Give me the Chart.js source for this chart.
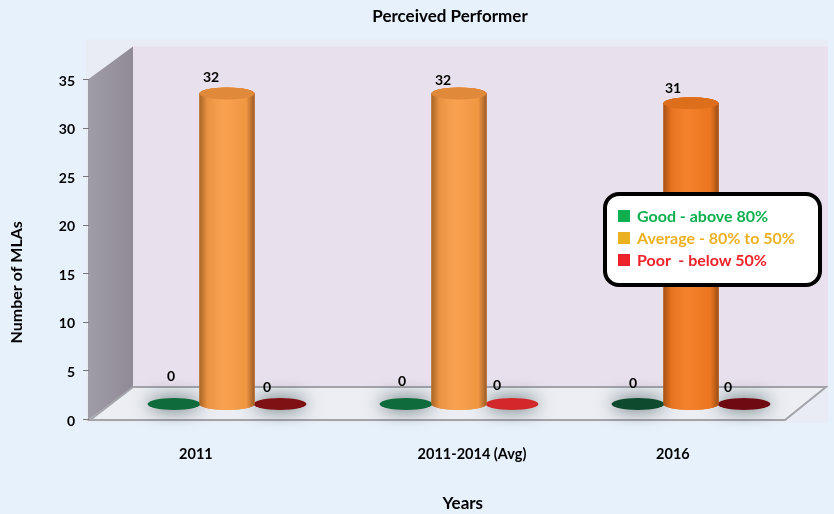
<!DOCTYPE html>
<html>
<head>
<meta charset="utf-8">
<script src="https://cdn.jsdelivr.net/npm/chart.js@4"></script>
<style>
  body { margin: 0; background: #e6f1fb; font-family: Lato, sans-serif; }
  #wrap { position: relative; width: 834px; height: 514px; overflow: hidden; }
  #legend {
    position: absolute; left: 603px; top: 192px; width: 219px; height: 95px; box-sizing: border-box;
    background: #fff; border: 4px solid #000; border-radius: 16px;
    padding: 9px 0 0 0; font-weight: 700; font-size: 16px;
  }
  #legend div { height: 22px; line-height: 22px; padding-left: 30px; position: relative; white-space: pre; }
  #legend i { position: absolute; left: 11px; top: 5px; width: 12px; height: 12px; }
</style>
</head>
<body>
<div id="wrap">
  <canvas id="myChart" width="834" height="514"></canvas>
  <div id="legend"></div>
</div>
<script>
    const categories = ['2011', '2011-2014 (Avg)', '2016'];
    const goodValues = [0, 0, 0];
    const averageValues = [32, 32, 31];
    const poorValues = [0, 0, 0];

    const goodBars = ['#0f6b3c', '#0f6b3c', '#0d4a2e'];
    const averageBars = ['#f89c46', '#f89c46', '#f47a20'];
    const poorBars = ['#7f1014', '#d2282b', '#6f0b10'];

    const legendNames = ['Good - above 80%', 'Average - 80% to 50%', 'Poor  - below 50%'];
    const legendColors = ['#0cb04f', '#ecb120', '#ee2229'];

    // the labels in the picture are not under their bars
    const tickSpots = [-0.134, 1.056, 1.922];
    // value label shift from the bar top, in the order good, average, poor
    const labelShifts = [
        [[-3, -28], [-4, -23], [-5, -21]],
        [[-16, -16], [-16, -13], [-18, -15]],
        [[-13, -17], [-15, -19], [-16, -17]]
    ];

    const fontName = 'Lato, sans-serif';
    const floorLift = 15;

    // bars are cylinders standing on the floor
    Chart.BarElement.prototype.draw = function (ctx) {
        const cx = this.x, rx = this.width / 2 + (this.base - this.y > 1 ? 1 : 0), ry = 6;
        const top = this.y - floorLift, bottom = this.base - floorLift;
        const color = this.options.backgroundColor;
        ctx.save();
        if (bottom - top < 1) {
            ctx.shadowColor = 'rgba(70,90,90,0.95)';
            ctx.shadowBlur = 18;
            ctx.fillStyle = color;
            ctx.beginPath();
            ctx.ellipse(cx, bottom, rx, ry, 0, 0, Math.PI * 2);
            ctx.fill();
            ctx.restore();
            return;
        }
        ctx.beginPath();
        ctx.moveTo(cx - rx, top);
        ctx.lineTo(cx - rx, bottom);
        ctx.ellipse(cx, bottom, rx, ry, 0, Math.PI, 0, true);
        ctx.lineTo(cx + rx, top);
        ctx.ellipse(cx, top, rx, ry, 0, 0, Math.PI, true);
        ctx.closePath();
        ctx.fillStyle = color;
        ctx.fill();
        const g = ctx.createLinearGradient(cx - rx, 0, cx + rx, 0);
        g.addColorStop(0, 'rgba(90,45,10,0.5)');
        g.addColorStop(0.14, 'rgba(90,45,10,0.1)');
        g.addColorStop(0.45, 'rgba(255,255,255,0.05)');
        g.addColorStop(0.85, 'rgba(90,45,10,0.05)');
        g.addColorStop(1, 'rgba(80,40,10,0.55)');
        ctx.fillStyle = g;
        ctx.fill();
        ctx.beginPath();
        ctx.ellipse(cx, top, rx, ry, 0, 0, Math.PI * 2);
        ctx.fillStyle = color;
        ctx.fill();
        ctx.fillStyle = 'rgba(130,65,15,0.2)';
        ctx.fill();
        ctx.restore();
    };

    const roomPlugin = {
        id: 'room',
        beforeDraw(chart) {
            const ctx = chart.ctx, a = chart.chartArea, yScale = chart.scales.y;
            const backX = a.left + 22, frontX = a.left - 21, rightX = a.right + 19;
            const floorBack = a.bottom - 32, floorFront = a.bottom + 1;

            ctx.save();
            ctx.fillStyle = '#e9ecf5';
            ctx.fillRect(a.left - 25, a.top - 40, a.width + 46, a.height + 44);

            ctx.fillStyle = '#e8e0ec';
            ctx.fillRect(backX, a.top - 33, rightX - backX + 2, floorBack - a.top + 33);

            // left wall
            const side = ctx.createLinearGradient(frontX, 0, backX, 0);
            side.addColorStop(0, '#a09ca6');
            side.addColorStop(1, '#8f8a96');
            ctx.fillStyle = side;
            ctx.beginPath();
            ctx.moveTo(frontX - 2, a.top);
            ctx.lineTo(backX, a.top - 33);
            ctx.lineTo(backX, floorBack);
            ctx.lineTo(frontX - 2, floorFront);
            ctx.closePath();
            ctx.fill();

            // floor
            ctx.fillStyle = '#eceef4';
            ctx.strokeStyle = '#a3a3aa';
            ctx.lineWidth = 2;
            ctx.beginPath();
            ctx.moveTo(backX, floorBack);
            ctx.lineTo(rightX, floorBack);
            ctx.lineTo(rightX - 41, floorFront);
            ctx.lineTo(frontX, floorFront);
            ctx.closePath();
            ctx.fill();
            ctx.stroke();

            // tick marks
            ctx.strokeStyle = '#777';
            ctx.lineWidth = 1;
            yScale.ticks.forEach(t => {
                const py = Math.round(yScale.getPixelForValue(t.value)) + 0.5;
                ctx.beginPath();
                ctx.moveTo(a.left - 28, py);
                ctx.lineTo(a.left - 22, py);
                ctx.stroke();
            });
            ctx.restore();
        },
        afterDatasetsDraw(chart) {
            const ctx = chart.ctx;
            // the orange cylinders stand in front of the flat marks
            chart.getDatasetMeta(1).controller.draw();
            ctx.save();
            ctx.font = '700 14px ' + fontName;
            ctx.fillStyle = '#000';
            ctx.textAlign = 'center';
            ctx.textBaseline = 'middle';
            chart.data.datasets.forEach((ds, d) => {
                chart.getDatasetMeta(d).data.forEach((bar, i) => {
                    const s = labelShifts[d][i];
                    ctx.fillText(ds.data[i], bar.x + s[0], bar.y - floorLift + s[1]);
                });
            });
            ctx.restore();
        },
        afterLayout(chart) {
            // title sits a bit left of the plot centre
            chart.titleBlock.left -= 9;
            chart.titleBlock.right -= 9;
        }
    };

    const data = {
        labels: categories,
        datasets: [
            { label: legendNames[0], data: goodValues, backgroundColor: goodBars },
            { label: legendNames[1], data: averageValues, backgroundColor: averageBars },
            { label: legendNames[2], data: poorValues, backgroundColor: poorBars }
        ]
    };

    const config = {
        type: 'bar',
        data: data,
        options: {
            responsive: false,
            animation: false,
            events: [],
            layout: { padding: { right: 27 } },
            datasets: { bar: { categoryPercentage: 0.685, barPercentage: 1, clip: false } },
            plugins: {
                legend: { display: false },
                tooltip: { enabled: false },
                title: {
                    display: true,
                    text: 'Perceived Performer',
                    fullSize: false,
                    color: '#000',
                    font: { family: fontName, size: 17, weight: '700' },
                    padding: { top: 6, bottom: 53 }
                }
            },
            scales: {
                x: {
                    grid: { display: false, drawTicks: false },
                    border: { display: false },
                    ticks: { display: false },
                    weight: 2,
                    afterFit(scale) { scale.height = 50; },
                    title: {
                        display: true,
                        text: '\u00a0\u00a0Years',
                        color: '#000',
                        font: { family: fontName, size: 17, weight: '700' },
                        padding: { top: 0, bottom: 0 }
                    }
                },
                xTicks: {
                    type: 'linear',
                    position: 'bottom',
                    offset: false,
                    min: -0.5,
                    max: 2.5,
                    weight: 1,
                    grid: { display: false, drawTicks: false },
                    border: { display: false },
                    afterBuildTicks(scale) { scale.ticks = tickSpots.map(v => ({ value: v })); },
                    afterFit(scale) { scale.height = 45; },
                    ticks: {
                        autoSkip: false,
                        maxRotation: 0,
                        padding: 27,
                        color: '#000',
                        font: { family: fontName, size: 14.5, weight: '700' },
                        callback: (value, index) => categories[index]
                    }
                },
                y: {
                    min: 0,
                    max: 35,
                    grid: { display: false, drawTicks: false },
                    border: { display: false },
                    afterFit(scale) { scale.width = 111; },
                    ticks: {
                        stepSize: 5,
                        padding: 36,
                        labelOffset: 2,
                        color: '#000',
                        font: { family: fontName, size: 14, weight: '700' }
                    },
                    title: {
                        display: true,
                        text: 'Number of MLAs' + '\u00a0'.repeat(17),
                        color: '#000',
                        font: { family: fontName, size: 16, weight: '700' },
                        padding: { top: 7, bottom: 0 }
                    }
                }
            }
        },
        plugins: [roomPlugin]
    };

    const box = document.getElementById('legend');
    legendNames.forEach((name, i) => {
        const row = document.createElement('div');
        row.style.color = legendColors[i];
        const mark = document.createElement('i');
        mark.style.background = legendColors[i];
        row.appendChild(mark);
        row.appendChild(document.createTextNode(name));
        box.appendChild(row);
    });

    const myChart = new Chart(document.getElementById('myChart'), config);
</script>
</body>
</html>
